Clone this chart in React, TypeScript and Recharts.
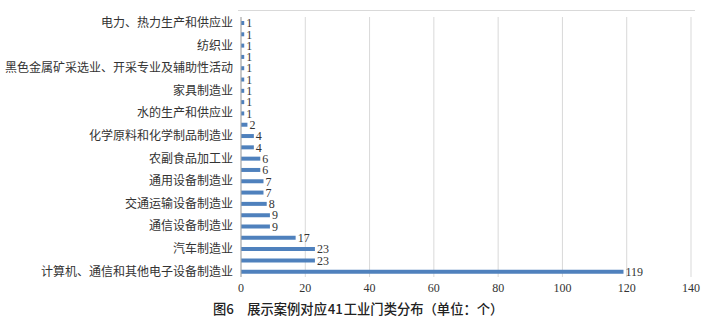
import { Bar, BarChart, CartesianGrid, LabelList, XAxis, YAxis } from "recharts";

// top-to-bottom order; only every other category name is printed in the source figure
const categories = [
  "电力、热力生产和供应业", "",
  "纺织业", "",
  "黑色金属矿采选业、开采专业及辅助性活动", "",
  "家具制造业", "",
  "水的生产和供应业", "",
  "化学原料和化学制品制造业", "",
  "农副食品加工业", "",
  "通用设备制造业", "",
  "交通运输设备制造业", "",
  "通信设备制造业", "",
  "汽车制造业", "",
  "计算机、通信和其他电子设备制造业",
];

const counts = [1, 1, 1, 1, 1, 1, 1, 1, 1, 2, 4, 4, 6, 6, 7, 7, 8, 9, 9, 17, 23, 23, 119];

const xTicks = [0, 20, 40, 60, 80, 100, 120, 140];

const caption = "图6\u3000展示案例对应\u200a41\u200a工业门类分布（单位：个）";

const SERIF = "'Liberation Serif', 'Noto Sans CJK SC', serif";

export default function App() {
  const data = counts.map((v, i) => ({ id: i, name: categories[i], value: v }));

  return (
    <div style={{ position: "absolute", left: 0, top: 0, width: 721, height: 317, background: "#fff" }}>
      {/* thin frame line above the plot */}
      <div style={{ position: "absolute", left: 238, top: 10, width: 457, height: 1, background: "#d9d9d9" }} />
      <BarChart
        width={721}
        height={300}
        data={data}
        layout="vertical"
        margin={{ top: 17, right: 30, bottom: 0, left: 0 }}
        barCategoryGap={3}
      >
        <CartesianGrid horizontal={false} stroke="#d9d9d9" />
        <XAxis
          type="number"
          domain={[0, 140]}
          ticks={xTicks}
          axisLine={false}
          tickLine={false}
          tickSize={4}
          height={23}
          tick={{ fontSize: 12, fill: "#333", fontFamily: SERIF }}
        />
        <YAxis
          type="category"
          dataKey="id"
          width={241}
          interval={0}
          axisLine={{ stroke: "#a6a6a6" }}
          tickLine={false}
          tickSize={6}
          tickMargin={2}
          tickFormatter={(i: number) => categories[i]}
          tick={{ fontSize: 12, fill: "#333", fontFamily: SERIF }}
        />
        <Bar dataKey="value" fill="#4f81bd" barSize={4} isAnimationActive={false}>
          <LabelList
            dataKey="value"
            position="right"
            offset={2}
            style={{ fontSize: 12, fill: "#333", fontFamily: SERIF }}
          />
        </Bar>
      </BarChart>
      <div
        style={{
          position: "absolute",
          left: 213,
          top: 300,
          fontSize: 13.3,
          fontWeight: 500,
          color: "#222",
          fontFamily: "'Noto Sans CJK SC', sans-serif",
          whiteSpace: "nowrap",
          lineHeight: "17px",
        }}
      >
        {caption}
      </div>
    </div>
  );
}
